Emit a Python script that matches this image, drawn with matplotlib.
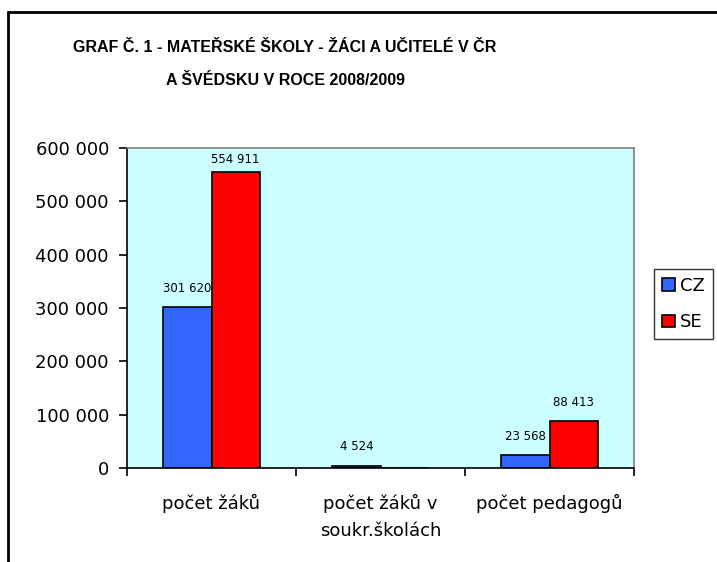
import matplotlib.pyplot as plt
import numpy as np
from matplotlib.patches import Rectangle
from matplotlib.ticker import FuncFormatter

plt.rcParams['font.family'] = ['DejaVu Sans']

categories = ['počet žáků', 'počet žáků v\nsoukr.školách', 'počet pedagogů']
cz_values = [301620, 4524, 23568]
se_values = [554911, 0, 88413]
series_names = ['CZ', 'SE']
title = 'GRAF Č. 1 - MATEŘSKÉ ŠKOLY - ŽÁCI A UČITELÉ V ČR\nA ŠVÉDSKU V ROCE 2008/2009'

W, H = 717, 562
fig = plt.figure(figsize=(W / 100, H / 100), dpi=100)

# outer frame of the chart object
fig.patches.append(Rectangle((8 / W, -0.05), 1.0, (H - 12) / H + 0.05,
                             transform=fig.transFigure, fill=False,
                             edgecolor='black', linewidth=2))

ax = fig.add_axes([127 / W, 1 - 468 / H, (634 - 127) / W, (468 - 148) / H])
ax.set_facecolor('#CCFFFF')

x = np.arange(len(categories))
bw = 1 / 3.5
ax.bar(x - bw / 2, cz_values, bw, color='#3366FF', edgecolor='black', linewidth=1.2,
       label=series_names[0])
ax.bar(x + bw / 2, se_values, bw, color='#FF0000', edgecolor='black', linewidth=1.2,
       label=series_names[1])

fmt = lambda v: f'{int(v):,}'.replace(',', ' ')
# labels sit above the bars, kept inside the plot area
for xi, v in zip(x, cz_values):
    if v:
        ax.text(xi - bw / 2, min(v + 35000, 578000), fmt(v), ha='center', va='center', fontsize=8.5)
for xi, v in zip(x, se_values):
    if v:
        ax.text(xi + bw / 2, min(v + 35000, 578000), fmt(v), ha='center', va='center', fontsize=8.5)

ax.set_xlim(-0.5, 2.5)
ax.set_ylim(0, 600000)
ax.set_yticks(np.arange(0, 600001, 100000))
ax.yaxis.set_major_formatter(FuncFormatter(lambda v, p: fmt(v)))
ax.tick_params(axis='y', labelsize=13, length=6, width=1.2, direction='out', pad=7)

ax.set_xticks(x)
ax.set_xticklabels(categories, fontsize=13, linespacing=1.6)
ax.set_xticks([-0.5, 0.5, 1.5, 2.5], minor=True)
ax.tick_params(axis='x', which='major', length=0, pad=19)
ax.tick_params(axis='x', which='minor', length=6, width=1.2, direction='out')

for s in ['top', 'right']:
    ax.spines[s].set_color('#808080')
    ax.spines[s].set_linewidth(1.2)
for s in ['left', 'bottom']:
    ax.spines[s].set_color('black')
    ax.spines[s].set_linewidth(1.2)

fig.text(285 / W, 1 - 64 / H, title, ha='center', va='center', multialignment='center',
         fontsize=11.5, fontweight='bold', linespacing=2.5, family='Liberation Sans')

leg = fig.legend(loc='upper left', bbox_to_anchor=(654 / W, 1 - 269 / H),
                 fontsize=13, frameon=True, fancybox=False, edgecolor='black',
                 handlelength=0.7, handleheight=0.7, handletextpad=0.3,
                 borderpad=0.45, labelspacing=1.0, borderaxespad=0)
leg.get_frame().set_linewidth(1)

fig.savefig('out.png', dpi=100)
